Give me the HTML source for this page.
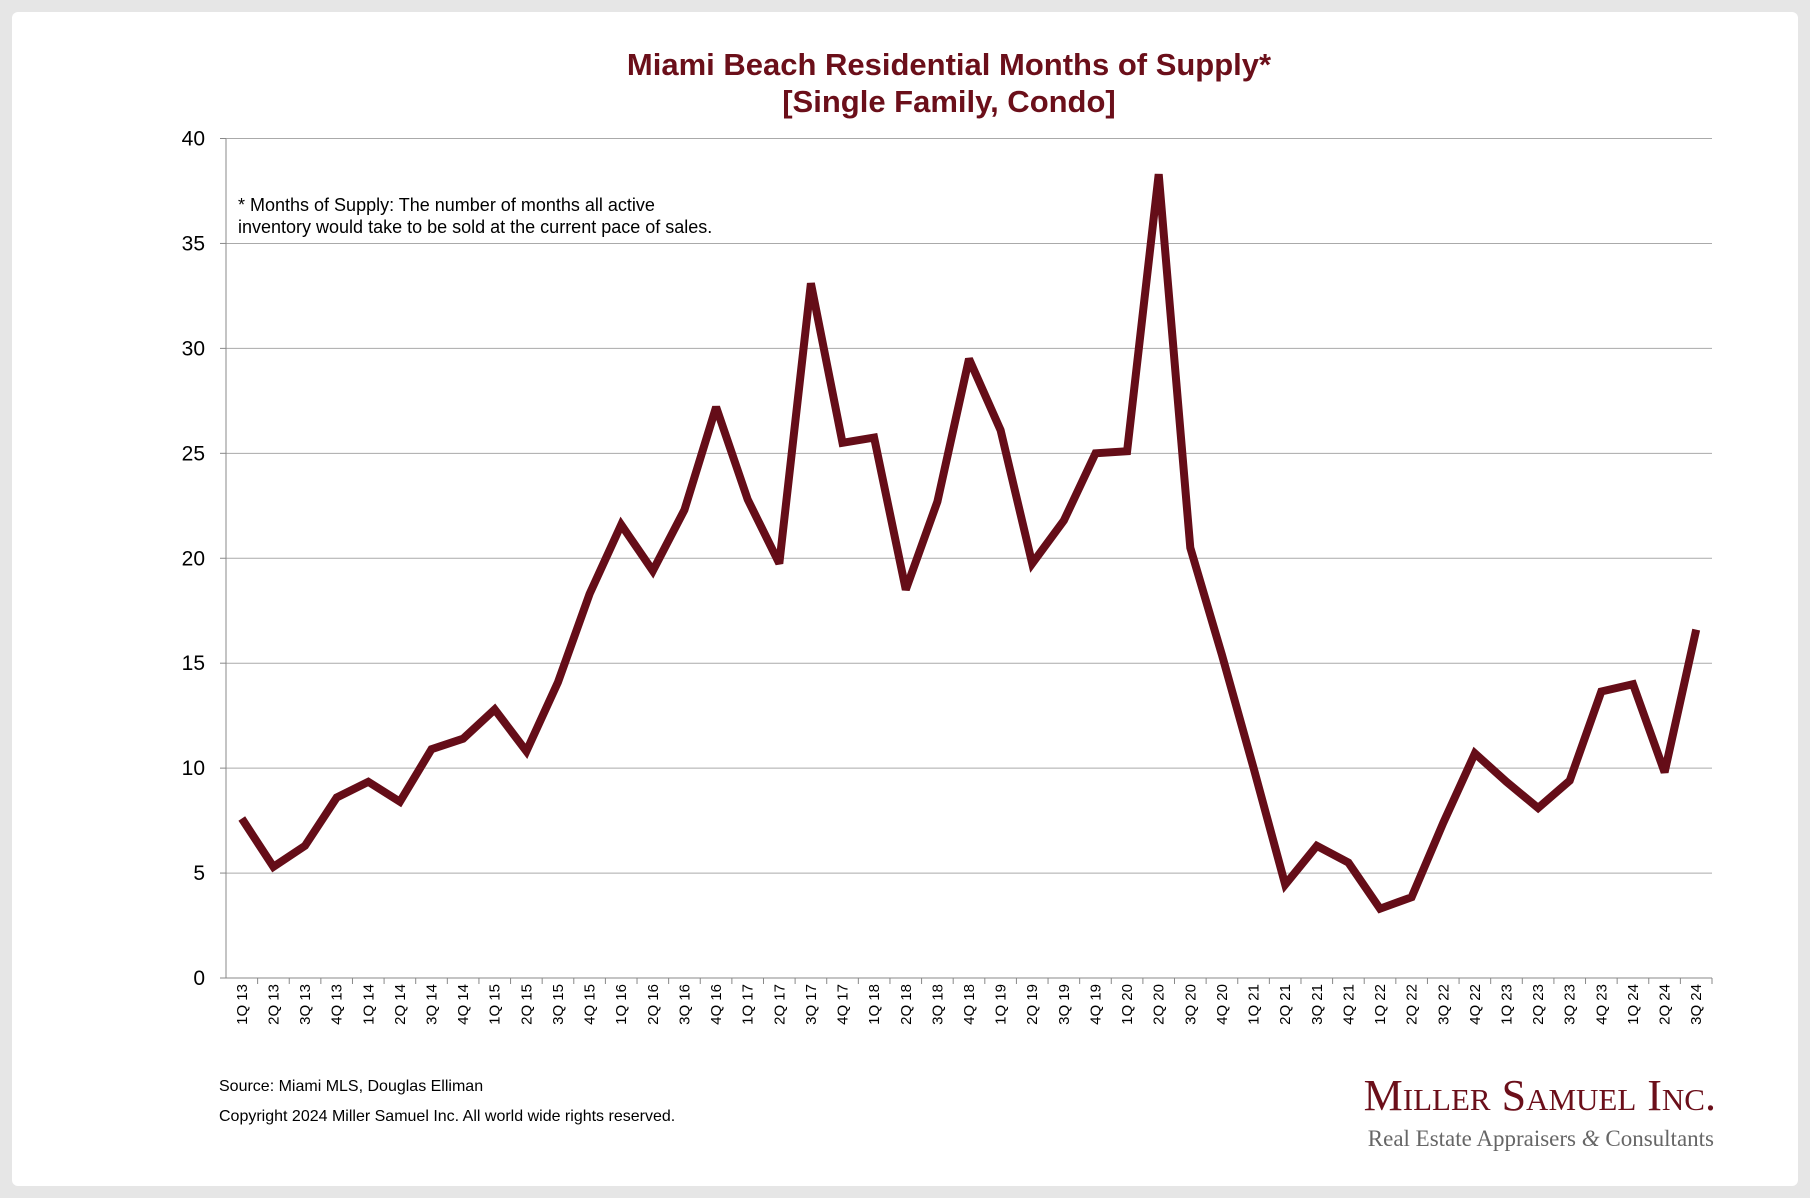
<!DOCTYPE html>
<html><head><meta charset="utf-8">
<style>
html,body{margin:0;padding:0;background:#e6e6e6;}
body{width:1810px;height:1198px;position:relative;overflow:hidden;font-family:"Liberation Sans",Arial,sans-serif;}
#card{position:absolute;left:12px;top:12px;width:1786px;height:1174px;background:#fff;border-radius:6px;}
svg{position:absolute;left:0;top:0;}
</style></head>
<body>
<div id="card"></div>
<svg id="chart" width="1810" height="1198">
<text x="949" y="75" text-anchor="middle" font-family="Liberation Sans, Arial, sans-serif" font-weight="bold" font-size="31" fill="#6b0f1a">Miami Beach Residential Months of Supply*</text>
<text x="949" y="112" text-anchor="middle" font-family="Liberation Sans, Arial, sans-serif" font-weight="bold" font-size="31" fill="#6b0f1a">[Single Family, Condo]</text>
<g id="grid"></g><g id="yticks"></g><g id="xticks"></g><g id="series"></g>
<text x="238" y="211" font-size="18" fill="#000">* Months of Supply: The number of months all active</text>
<text x="238" y="233" font-size="18" fill="#000">inventory would take to be sold at the current pace of sales.</text>
<text x="219" y="1091" font-size="16" fill="#000">Source: Miami MLS, Douglas Elliman</text>
<text x="219" y="1121" font-size="16" fill="#000">Copyright 2024 Miller Samuel Inc.  All world wide rights reserved.</text>
<text x="1716" y="1110" text-anchor="end" font-family="Liberation Serif, serif" font-size="44" fill="#6b0f1a" style="font-variant:small-caps">Miller Samuel Inc.</text>
<text x="1714" y="1146" text-anchor="end" font-family="Liberation Serif, serif" font-size="23" fill="#666">Real Estate Appraisers <tspan font-style="italic">&amp;</tspan> Consultants</text>
</svg>
<script>
const categories=["1Q 13","2Q 13","3Q 13","4Q 13","1Q 14","2Q 14","3Q 14","4Q 14","1Q 15","2Q 15","3Q 15","4Q 15","1Q 16","2Q 16","3Q 16","4Q 16","1Q 17","2Q 17","3Q 17","4Q 17","1Q 18","2Q 18","3Q 18","4Q 18","1Q 19","2Q 19","3Q 19","4Q 19","1Q 20","2Q 20","3Q 20","4Q 20","1Q 21","2Q 21","3Q 21","4Q 21","1Q 22","2Q 22","3Q 22","4Q 22","1Q 23","2Q 23","3Q 23","4Q 23","1Q 24","2Q 24","3Q 24"];
const monthsOfSupply=[7.6,5.3,6.3,8.6,9.35,8.4,10.9,11.4,12.8,10.8,14.1,18.3,21.6,19.4,22.3,27.2,22.8,19.75,33.1,25.5,25.75,18.5,22.7,29.5,26.1,19.75,21.8,25.0,25.1,38.3,20.5,15.4,10.0,4.45,6.3,5.5,3.3,3.85,7.4,10.7,9.35,8.1,9.4,13.65,14.0,9.8,16.6];
const yTicks=[0,5,10,15,20,25,30,35,40];
const NS="http://www.w3.org/2000/svg";
const L=226,R=1712,T=138.5,B=978,YMAX=40;
const band=(R-L)/categories.length;
const xs=i=>L+band*(i+0.5);
const ys=v=>B-(v/YMAX)*(B-T);
function mk(tag,attrs,parent){const e=document.createElementNS(NS,tag);for(const k in attrs)e.setAttribute(k,attrs[k]);parent.appendChild(e);return e;}
const grid=document.getElementById('grid'),yt=document.getElementById('yticks'),xt=document.getElementById('xticks'),ser=document.getElementById('series');
yTicks.forEach(v=>{
  const y=ys(v);
  const g=mk('line',{x1:L,x2:R,y1:y,y2:y,stroke:v===0?'#888':'#aaa','stroke-width':1},grid);
  
  
  const tk=mk('line',{x1:L-6,x2:L,y1:y,y2:y,stroke:'#888','stroke-width':1},grid);
  
  
  const t=mk('text',{x:205,y:y+7,'text-anchor':'end','font-size':21,fill:'#000'},yt);
  t.textContent=v;
  
  
});
const ax=mk('line',{x1:L,x2:L,y1:T,y2:B,stroke:'#888','stroke-width':1},grid);


categories.forEach((c,i)=>{
  const x=xs(i);
  const tk=mk('line',{x1:L+band*(i+1),x2:L+band*(i+1),y1:B,y2:B+6,stroke:'#888','stroke-width':1},grid);
  
  
  const t=mk('text',{x:0,y:0,'text-anchor':'end','font-size':15,fill:'#000',transform:`translate(${x+5},${B+6}) rotate(-90)`},xt);
  t.textContent=c;
  
  
});
const pts=monthsOfSupply.map((v,i)=>xs(i).toFixed(1)+','+ys(v).toFixed(1)).join(' ');
const pl=mk('polyline',{points:pts,fill:'none',stroke:'#650d18','stroke-width':8,'stroke-linejoin':'miter','stroke-miterlimit':3},ser);


</script>
</body></html>
